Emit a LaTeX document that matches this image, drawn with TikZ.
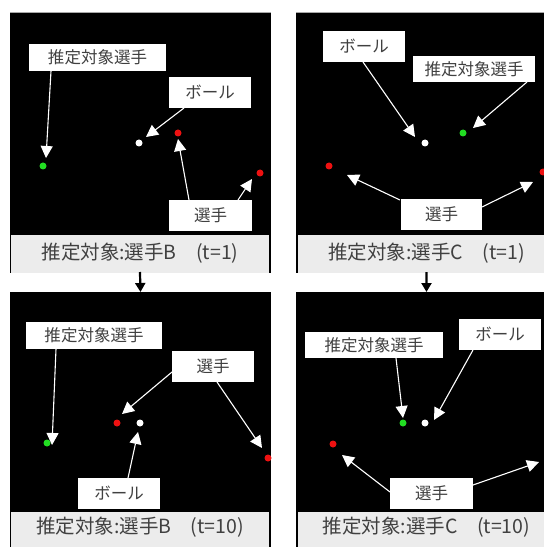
\documentclass[tikz,border=0pt]{standalone}
\usepackage{fontspec}
\setmainfont{Noto Sans CJK JP}
\usetikzlibrary{arrows.meta}
\definecolor{txt}{HTML}{404040}
\definecolor{barfill}{HTML}{ECECEC}
\definecolor{dotgreen}{HTML}{22DD22}
\definecolor{dotred}{HTML}{EE1111}
\definecolor{topline}{HTML}{A8A8A8}
\tikzset{
  panel/.style={fill=black, draw=none, inner sep=0pt, outer sep=0pt, anchor=north west, minimum width=261bp},
  capbar/.style={fill=barfill, draw=none, inner sep=0pt, outer sep=0pt, anchor=north west, minimum height=38bp},
  captext/.style={text=txt, inner sep=0pt, font=\fontsize{19.5bp}{22bp}\selectfont},
  lbl/.style={fill=white, draw=none, text=txt, inner sep=0pt, outer sep=0pt, font=\fontsize{16.5bp}{19bp}\selectfont},
  pdot/.style={circle, inner sep=0pt, minimum size=7bp, draw=none},
  warrow/.style={draw=white, line width=1.1bp, -{Triangle[length=12bp,width=12bp]}},
  karrow/.style={draw=black, line width=2.2bp, -{Triangle[length=9bp,width=10bp]}, shorten <=-1bp}
}
\begin{document}
\begin{tikzpicture}[x=1bp,y=-1bp]
\useasboundingbox (0,0) rectangle (544,547);
\clip (0,0) rectangle (544,547);

% ---------- panels ----------
\node[panel, minimum height=261bp] (pTL) at (10,12) {};
\node[panel, minimum height=261bp] (pTR) at (296,12) {};
\node[panel, minimum height=260bp] (pBL) at (10,292) {};
\node[panel, minimum height=260bp] (pBR) at (296,292) {};
\draw[topline, line width=0.8bp] (pTL.north west) -- (pTL.north east);
\draw[topline, line width=0.8bp] (pTR.north west) -- (pTR.north east);

\node[capbar, minimum width=258bp] (cTL) at (11,235) {};
\node[capbar, minimum width=257bp] (cTR) at (298,235) {};
\node[capbar, minimum width=258bp] (cBL) at (11,512) {};
\node[capbar, minimum width=257bp] (cBR) at (298,512) {};

\node[captext] (tTL) at (140,253.5) {推定対象:選手B　(t=1)};
\node[captext] (tTR) at (426.5,253.5) {推定対象:選手C　(t=1)};
\node[captext] (tBL) at (140,527.5) {推定対象:選手B　(t=10)};
\node[captext] (tBR) at (426.5,527.5) {推定対象:選手C　(t=10)};

% ---------- arrows between panels ----------
\draw[karrow] (cTL.south) -- (pBL.north);
\draw[karrow] (cTR.south) -- (pBR.north);

% ---------- top-left ----------
\node[pdot, fill=dotgreen] (g1) at (43,166) {};
\node[pdot, fill=white] (w1) at (139,143) {};
\node[pdot, fill=dotred] (r1a) at (178,133) {};
\node[pdot, fill=dotred] (r1b) at (260,173) {};
\node[lbl, minimum width=137bp, minimum height=27bp] (a1) at (97.5,57.5) {推定対象選手};
\node[lbl, minimum width=82bp, minimum height=31bp] (b1) at (210,92.5) {ボール};
\node[lbl, minimum width=83bp, minimum height=31bp] (c1) at (210.5,215.5) {選手};
\coordinate (a1s) at (51,71);   \coordinate (a1t) at (46,158);
\coordinate (b1s) at (184,108); \coordinate (b1t) at (146,137);
\coordinate (c1s) at (189,200); \coordinate (c1t) at (178,139);
\coordinate (d1s) at (238,200); \coordinate (d1t) at (252,179);
\draw[warrow] (a1s) -- (a1t);
\draw[warrow] (b1s) -- (b1t);
\draw[warrow] (c1s) -- (c1t);
\draw[warrow] (d1s) -- (d1t);

% ---------- top-right ----------
\node[pdot, fill=white] (w2) at (425,143) {};
\node[pdot, fill=dotgreen] (g2) at (463,133) {};
\node[pdot, fill=dotred] (r2a) at (329,166) {};
\node[pdot, fill=dotred] (r2b) at (543,172) {};
\node[lbl, minimum width=82bp, minimum height=31bp] (b2) at (364,46.5) {ボール};
\node[lbl, minimum width=122bp, minimum height=26bp] (a2) at (474,69) {推定対象選手};
\node[lbl, minimum width=81bp, minimum height=31bp] (c2) at (441.5,214.5) {選手};
\coordinate (b2s) at (363,62);  \coordinate (b2t) at (415,137);
\coordinate (a2s) at (527,82);  \coordinate (a2t) at (473,128);
\coordinate (c2s) at (400,200); \coordinate (c2t) at (347,175);
\coordinate (d2s) at (482,207); \coordinate (d2t) at (533,182);
\draw[warrow] (b2s) -- (b2t);
\draw[warrow] (a2s) -- (a2t);
\draw[warrow] (c2s) -- (c2t);
\draw[warrow] (d2s) -- (d2t);

% ---------- bottom-left ----------
\node[pdot, fill=dotgreen] (g3) at (47,443) {};
\node[pdot, fill=dotred] (r3a) at (117,423) {};
\node[pdot, fill=white] (w3) at (140,423) {};
\node[pdot, fill=dotred] (r3b) at (268,458) {};
\node[lbl, minimum width=136bp, minimum height=27bp] (a3) at (94,335.5) {推定対象選手};
\node[lbl, minimum width=82bp, minimum height=31bp] (c3) at (213,366.5) {選手};
\node[lbl, minimum width=82bp, minimum height=31bp] (b3) at (119,493.5) {ボール};
\coordinate (a3s) at (56,349);  \coordinate (a3t) at (52,445);
\coordinate (c3s) at (172,372); \coordinate (c3t) at (122,414);
\coordinate (d3s) at (217,382); \coordinate (d3t) at (262,448);
\coordinate (b3s) at (128,478); \coordinate (b3t) at (138,432);
\draw[warrow] (a3s) -- (a3t);
\draw[warrow] (c3s) -- (c3t);
\draw[warrow] (d3s) -- (d3t);
\draw[warrow] (b3s) -- (b3t);

% ---------- bottom-right ----------
\node[pdot, fill=dotgreen] (g4) at (403,423) {};
\node[pdot, fill=white] (w4) at (425,423) {};
\node[pdot, fill=dotred] (r4a) at (333,444) {};
\node[lbl, minimum width=138bp, minimum height=26bp] (a4) at (374,345) {推定対象選手};
\node[lbl, minimum width=82bp, minimum height=31bp] (b4) at (500,334.5) {ボール};
\node[lbl, minimum width=83bp, minimum height=31bp] (c4) at (431.5,493.5) {選手};
\coordinate (a4s) at (396,358); \coordinate (a4t) at (403,418);
\coordinate (b4s) at (473,350); \coordinate (b4t) at (434,420);
\coordinate (c4s) at (390,492); \coordinate (c4t) at (342,455);
\coordinate (d4s) at (473,485); \coordinate (d4t) at (539,462);
\draw[warrow] (a4s) -- (a4t);
\draw[warrow] (b4s) -- (b4t);
\draw[warrow] (c4s) -- (c4t);
\draw[warrow] (d4s) -- (d4t);
\end{tikzpicture}
\end{document}
